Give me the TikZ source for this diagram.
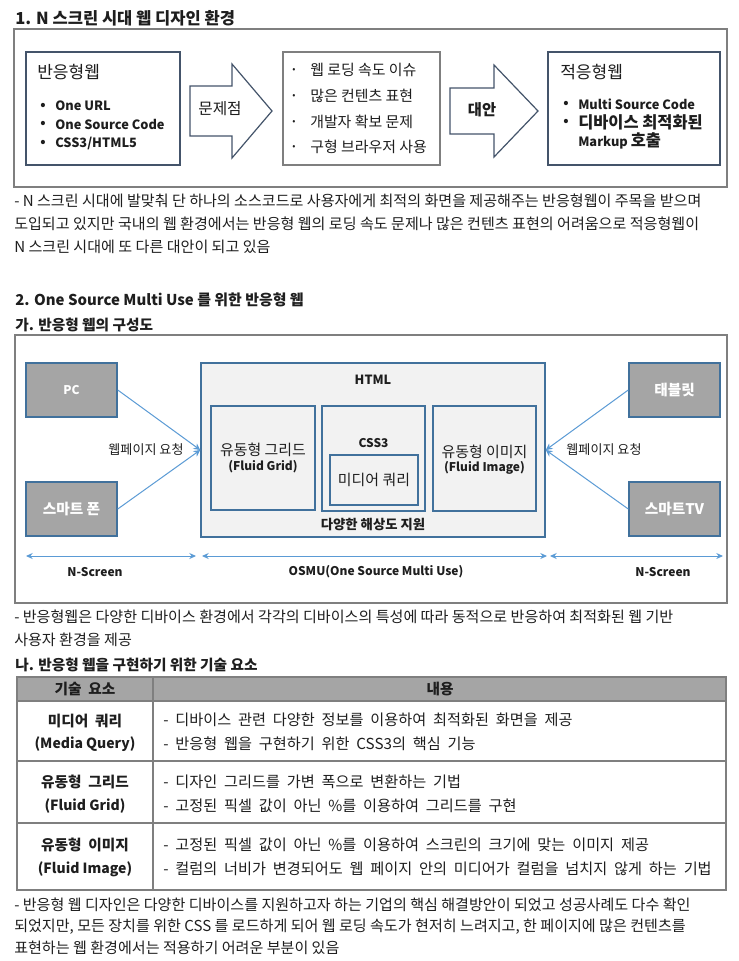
\documentclass[tikz,border=0pt]{standalone}
\usepackage{fontspec}
\setmainfont{Noto Sans CJK KR}
\newfontfamily\tblfont[WordSpace=2.0]{Noto Sans CJK KR}
\usetikzlibrary{arrows.meta}
\definecolor{slate}{HTML}{44546A}
\definecolor{frm}{HTML}{7F7F7F}
\definecolor{bblue}{HTML}{41719C}
\definecolor{lblue}{HTML}{5B9BD5}
\definecolor{dev}{HTML}{A5A5A5}
\definecolor{pane}{HTML}{F2F2F2}
\definecolor{txt}{HTML}{1E1E1E}
\newcommand{\fsz}[1]{\fontsize{#1}{#1}\selectfont}
\begin{document}
\begin{tikzpicture}[x=0.75pt,y=-0.75pt,
  T/.style={inner sep=0pt, anchor=west, text=txt},
  C/.style={inner sep=0pt, anchor=center, text=txt},
  sz/.style 2 args={minimum width={#1*0.75pt}, minimum height={#2*0.75pt}, inner sep=0pt},
  mainbox/.style={draw=slate, line width=1.5pt, fill=white},
  thinbox/.style={draw=frm, line width=0.8pt, fill=white},
  devbox/.style={draw=bblue, line width=1.1pt, fill=dev, text=white, font=\fsz{11pt}\bfseries},
  panebox/.style={draw=bblue, line width=1.1pt, fill=pane},
  blockarrow/.style={draw=slate, line width=0.9pt, fill=white, line join=miter},
  req/.style={draw=lblue, line width=0.75pt, -{Stealth[length=5pt,width=5pt]}},
  span/.style={draw=lblue, line width=0.75pt, {Stealth[length=5pt,width=4.5pt]}-{Stealth[length=5pt,width=4.5pt]}},
  body/.style={T, font=\fsz{11.3pt}},
  tb/.style={T, font=\tblfont\fsz{11.4pt}},
  tc/.style={C, font=\tblfont\fsz{11pt}\bfseries},
  tl/.style={C, font=\fsz{10.5pt}\bfseries},
]
\useasboundingbox[fill=white] (0,0) rectangle (739,961);

% ---------------- Section 1 ----------------
\node[T, font=\fsz{12.4pt}\bfseries] (h1) at (15,18) {1. N 스크린 시대 웹 디자인 환경};
\draw[frm, line width=0.9pt] (14,29) rectangle (727,187);

\node[mainbox, sz={154}{113}] (resp) at (103,108.5) {};
\node[T, font=\fsz{12.8pt}] (respt) at (37,72) {반응형웹};
\foreach \yy/\tt [count=\i] in {106/{One URL}, 124/{One Source Code}, 143/{CSS3/HTML5}}{
  \node[T, font=\fsz{10pt}\bfseries] (rb\i) at (40,\yy) {•};
  \node[T, font=\fsz{9.6pt}\bfseries] (rt\i) at (55,\yy) {\tt};
}

\draw[blockarrow] (190,86) -- (232,86) -- (232,64) -- (272,111) -- (232,158) -- (232,136) -- (190,136) -- cycle;
\node[C, font=\fsz{11.8pt}] (a1) at (220,109) {문제점};

\node[thinbox, sz={157}{113}] (prob) at (361.5,108.5) {};
\foreach \yy/\tt [count=\i] in {70/웹 로딩 속도 이슈, 96/많은 컨텐츠 표현, 122/개발자 확보 문제, 147/구형 브라우저 사용}{
  \node[T, font=\fsz{7pt}] (pb\i) at (292,\yy) {•};
  \node[T, font=\fsz{11.2pt}] (pt\i) at (310,\yy) {\tt};
}

\draw[blockarrow] (450,88) -- (494,88) -- (494,65) -- (538,111) -- (494,157) -- (494,134) -- (450,134) -- cycle;
\node[C, font=\fsz{11.5pt}\bfseries] (a2) at (482,110) {대안};

\node[mainbox, sz={172}{113}] (adapt) at (634,108.5) {};
\node[T, font=\fsz{12.8pt}] (adaptt) at (560,72) {적응형웹};
\node[T, font=\fsz{10pt}\bfseries] (ab1) at (563,104) {•};
\node[T, font=\fsz{9.6pt}\bfseries] (at1) at (578,104) {Multi Source Code};
\node[T, font=\fsz{10pt}\bfseries] (ab2) at (563,122) {•};
\node[T, font=\fsz{12.3pt}\bfseries] (at2) at (578,122) {디바이스 최적화된};
\node[T, font=\fsz{9.6pt}\bfseries] (at3) at (578,141) {Markup {\fsz{12.3pt}호출}};

\node[body] (p1a) at (14,201) {- N 스크린 시대에 발맞춰 단 하나의 소스코드로 사용자에게 최적의 화면을 제공해주는 반응형웹이 주목을 받으며};
\node[body] (p1b) at (14,224) {도입되고 있지만 국내의 웹 환경에서는 반응형 웹의 로딩 속도 문제나 많은 컨텐츠 표현의 어려움으로 적응형웹이};
\node[body] (p1c) at (14,247) {N 스크린 시대에 또 다른 대안이 되고 있음};

% ---------------- Section 2 ----------------
\node[T, font=\fsz{11.2pt}\bfseries] (h2) at (15,300) {2. One Source Multi Use 를 위한 반응형 웹};
\node[T, font=\fsz{11pt}\bfseries] (h2a) at (15,325) {가. 반응형 웹의 구성도};
\draw[frm, line width=0.9pt] (15,335) rectangle (727,603);

\node[devbox, sz={91}{54}] (pc) at (71.5,390) {\fsz{9pt}PC};
\node[devbox, sz={91}{54}] (phone) at (71.5,509) {스마트 폰};
\node[devbox, sz={91}{54}] (tab) at (674.5,390) {태블릿};
\node[devbox, sz={91}{54}] (tv) at (674.5,509) {스마트TV};

\node[panebox, sz={344}{174}] (html) at (373,450) {};
\node[C, font=\fsz{9.5pt}\bfseries] (htmlt) at (373,380) {HTML};
\node[panebox, sz={104}{104}] (grid) at (263,458) {};
\node[C, font=\fsz{11.2pt}] (gridt) at (263,450) {유동형 그리드};
\node[C, font=\fsz{9pt}\bfseries] (gride) at (263,467) {(Fluid Grid)};
\node[panebox, sz={103}{105}] (css) at (373.5,458.5) {};
\node[C, font=\fsz{9pt}\bfseries] (csst) at (373.5,443) {CSS3};
\node[panebox, sz={88}{50}] (mq) at (374,480) {};
\node[C, font=\fsz{11.2pt}] (mqt) at (374,480) {미디어 쿼리};
\node[panebox, sz={103}{105}] (img) at (484.5,458.5) {};
\node[C, font=\fsz{11.2pt}] (imgt) at (484.5,452) {유동형 이미지};
\node[C, font=\fsz{9pt}\bfseries] (imge) at (484.5,468) {(Fluid Image)};
\node[C, font=\fsz{10pt}\bfseries] (res) at (373,525) {다양한 해상도 지원};

\draw[req] (pc.east) -- (html.west);
\draw[req] (phone.east) -- (html.west);
\draw[req] (tab.west) -- (html.east);
\draw[req] (tv.west) -- (html.east);
\node[C, font=\fsz{9.8pt}] (reql) at (146,450) {웹페이지 요청};
\node[C, font=\fsz{9.8pt}] (reqr) at (604,450) {웹페이지 요청};

\coordinate (s1) at (26,556);
\coordinate (s2) at (196,556);
\coordinate (s3) at (202,556);
\coordinate (s4) at (547,556);
\coordinate (s5) at (550,556);
\coordinate (s6) at (723,556);
\draw[span] (s1) -- (s2);
\draw[span] (s3) -- (s4);
\draw[span] (s5) -- (s6);
\node[C, font=\fsz{9pt}\bfseries] (ns1) at (95,572) {N-Screen};
\node[C, font=\fsz{9pt}\bfseries] (osmu) at (376,572) {OSMU(One Source Multi Use)};
\node[C, font=\fsz{9pt}\bfseries] (ns2) at (663,572) {N-Screen};

\node[body] (p2a) at (14,617) {- 반응형웹은 다양한 디바이스 환경에서 각각의 디바이스의 특성에 따라 동적으로 반응하여 최적화된 웹 기반};
\node[body] (p2b) at (14,640) {사용자 환경을 제공};

\node[T, font=\fsz{11pt}\bfseries] (h2b) at (15,665) {나. 반응형 웹을 구현하기 위한 기술 요소};

% ---------------- Table ----------------
\fill[dev] (17,677) rectangle (726,701);
\draw[frm, line width=0.8pt] (17,677) rectangle (726,890);
\draw[frm, line width=0.8pt] (17,701) -- (726,701);
\draw[frm, line width=0.8pt] (17,761) -- (726,761);
\draw[frm, line width=0.8pt] (17,823) -- (726,823);
\draw[frm, line width=0.8pt] (153,677) -- (153,890);

\node[tc] (th1) at (85,689) {기술 요소};
\node[tc] (th2) at (440,689) {내용};

\node[tc] (r1a) at (85,721) {미디어 쿼리};
\node[tl] (r1b) at (85,744) {(Media Query)};
\node[tb] (r1c) at (163,720) {- 디바이스 관련 다양한 정보를 이용하여 최적화된 화면을 제공};
\node[tb] (r1d) at (163,744) {- 반응형 웹을 구현하기 위한 CSS3의 핵심 기능};

\node[tc] (r2a) at (85,782) {유동형 그리드};
\node[tl] (r2b) at (85,806) {(Fluid Grid)};
\node[tb] (r2c) at (163,782) {- 디자인 그리드를 가변 폭으로 변환하는 기법};
\node[tb] (r2d) at (163,806) {- 고정된 픽셀 값이 아닌 \%를 이용하여 그리드를 구현};

\node[tc] (r3a) at (85,845) {유동형 이미지};
\node[tl] (r3b) at (85,869) {(Fluid Image)};
\node[tb] (r3c) at (163,845) {- 고정된 픽셀 값이 아닌 \%를 이용하여 스크린의 크기에 맞는 이미지 제공};
\node[tb] (r3d) at (163,869) {- 컬럼의 너비가 변경되어도 웹 페이지 안의 미디어가 컬럼을 넘치지 않게 하는 기법};

\node[body] (p3a) at (14,905) {- 반응형 웹 디자인은 다양한 디바이스를 지원하고자 하는 기업의 핵심 해결방안이 되었고 성공사례도 다수 확인};
\node[body] (p3b) at (14,927) {되었지만, 모든 장치를 위한 CSS 를 로드하게 되어 웹 로딩 속도가 현저히 느려지고, 한 페이지에 많은 컨텐츠를};
\node[body] (p3c) at (14,948) {표현하는 웹 환경에서는 적용하기 어려운 부분이 있음};
\end{tikzpicture}
\end{document}
